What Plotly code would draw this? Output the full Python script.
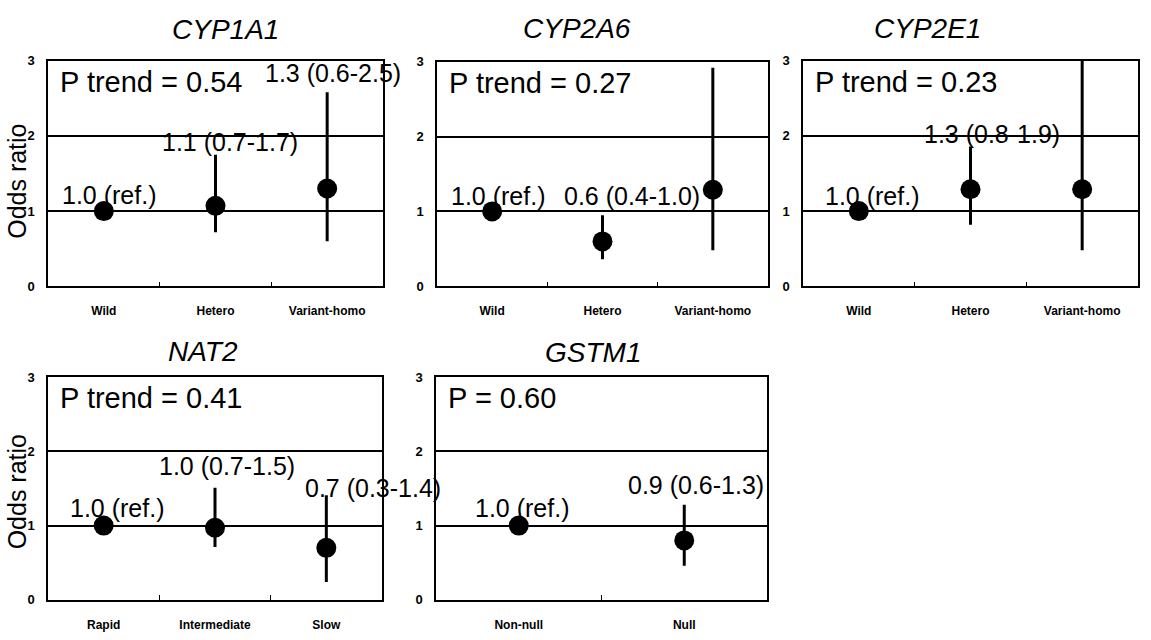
import plotly.graph_objects as go

# ---------------- data ----------------
genes = ["CYP1A1", "CYP2A6", "CYP2E1", "NAT2", "GSTM1"]
categories = [
    ["Wild", "Hetero", "Variant-homo"],
    ["Wild", "Hetero", "Variant-homo"],
    ["Wild", "Hetero", "Variant-homo"],
    ["Rapid", "Intermediate", "Slow"],
    ["Non-null", "Null"],
]
odds_ratio = [
    [1.0, 1.07, 1.30],
    [1.0, 0.60, 1.29],
    [1.0, 1.29, 1.29],
    [1.0, 0.97, 0.70],
    [1.0, 0.80],
]
ci_low = [
    [1.0, 0.72, 0.60],
    [1.0, 0.36, 0.48],
    [1.0, 0.82, 0.48],
    [1.0, 0.71, 0.24],
    [1.0, 0.46],
]
ci_high = [
    [1.0, 1.75, 2.58],
    [1.0, 0.95, 2.92],
    [1.0, 1.86, 3.60],
    [1.0, 1.51, 1.41],
    [1.0, 1.28],
]
point_labels = [
    ["1.0 (ref.)", "1.1 (0.7-1.7)", "1.3 (0.6-2.5)"],
    ["1.0 (ref.)", "0.6 (0.4-1.0)", "1.2 (0.5-3.0)"],
    ["1.0 (ref.)", "1.3 (0.8-1.9)", "1.3 (0.5-3.6)"],
    ["1.0 (ref.)", "1.0 (0.7-1.5)", "0.7 (0.3-1.4)"],
    ["1.0 (ref.)", "0.9 (0.6-1.3)"],
]
p_texts = ["P trend = 0.54", "P trend = 0.27", "P trend = 0.23",
           "P trend = 0.41", "P = 0.60"]
y_ticks = [0, 1, 2, 3]

# ---------------- layout (positions / styles) ----------------
W, H = 1151, 640
# panel boxes in pixels: (left, right, top, bottom)
boxes = [(48, 383, 55, 286), (437, 768, 56, 286), (803, 1138, 55, 286),
         (48, 382, 379, 607), (436, 767, 379, 607)]
# label placement (x in category units, y in data units)
label_pos = [
    [(1.05, 1.21), (2.13, 1.92), (3.05, 2.83)],
    [(1.05, 1.20), (2.27, 1.20), (3.02, 3.56)],
    [(1.12, 1.20), (2.19, 2.03), (2.95, 3.10)],
    [(1.12, 1.24), (2.11, 1.80), (3.42, 1.51)],
    [(1.02, 1.24), (2.07, 1.54)],
]
title_pos = [(225, 23), (577, 22), (927, 22), (203, 353), (593, 354)]
ylabel_pos = [(17, 179), (17, 497)]

FONT = "Liberation Sans, Arial, sans-serif"

fig = go.Figure()
annotations = []

for i, g in enumerate(genes):
    n = len(categories[i])
    xs = list(range(1, n + 1))
    ax = "" if i == 0 else str(i + 1)
    plus = [h - o for h, o in zip(ci_high[i], odds_ratio[i])]
    minus = [o - l for o, l in zip(odds_ratio[i], ci_low[i])]
    fig.add_trace(go.Scatter(
        x=xs, y=odds_ratio[i], mode="markers",
        marker=dict(color="black", size=20),
        error_y=dict(type="data", symmetric=False, array=plus,
                     arrayminus=minus, thickness=3, width=0, color="black"),
        xaxis="x" + ax, yaxis="y" + ax, showlegend=False, hoverinfo="skip",
    ))
    l, r, t, b = boxes[i]
    xdom = [l / W, r / W]
    ydom = [1 - b / H, 1 - t / H]
    bounds = [k + 0.5 for k in range(1, n)]
    fig.update_layout({
        "xaxis" + ax: dict(
            domain=xdom, range=[0.5, n + 0.5], anchor="y" + ax,
            tickmode="array", tickvals=xs, ticktext=categories[i],
            ticks="", showgrid=False, zeroline=False,
            showline=True, mirror=True, linecolor="black", linewidth=1.5,
            tickfont=dict(family=FONT, size=12, color="black", weight="bold"),
            ticklabelstandoff=13,
            minor=dict(tickmode="array", tickvals=bounds, ticks="inside",
                       ticklen=5, tickcolor="black", tickwidth=1, showgrid=False),
            fixedrange=True,
        ),
        "yaxis" + ax: dict(
            domain=ydom, range=[0, 3], anchor="x" + ax,
            tickmode="array", tickvals=y_ticks, ticks="",
            showgrid=True, gridcolor="black", gridwidth=1.5, zeroline=False,
            showline=True, mirror=True, linecolor="black", linewidth=1.5,
            tickfont=dict(family=FONT, size=13, color="black", weight="bold"),
            ticklabelstandoff=9, fixedrange=True,
        ),
    })
    # point labels
    for txt, (lx, ly) in zip(point_labels[i], label_pos[i]):
        annotations.append(dict(
            x=lx, y=ly, xref="x" + ax, yref="y" + ax, text=txt,
            showarrow=False, xanchor="center", yanchor="middle",
            font=dict(family=FONT, size=25, color="black")))
    # P text
    annotations.append(dict(
        x=0, y=2.72, xref="x" + ax + " domain", yref="y" + ax, text=p_texts[i],
        showarrow=False, xanchor="left", yanchor="middle", xshift=10,
        font=dict(family=FONT, size=29, color="black")))
    # title
    tx, ty = title_pos[i]
    annotations.append(dict(
        x=tx / W, y=1 - ty / H, xref="paper", yref="paper",
        text="<i>" + g + "</i>", showarrow=False,
        xanchor="center", yanchor="middle",
        font=dict(family=FONT, size=28, color="black")))

for (px, py) in ylabel_pos:
    annotations.append(dict(
        x=px / W, y=1 - py / H, xref="paper", yref="paper", text="Odds ratio",
        textangle=-90, showarrow=False, xanchor="center", yanchor="middle",
        font=dict(family=FONT, size=25, color="black")))

fig.update_layout(
    width=W, height=H, margin=dict(l=0, r=0, t=0, b=0),
    paper_bgcolor="white", plot_bgcolor="white",
    annotations=annotations, showlegend=False,
)

fig.write_html("out.html", config={"displayModeBar": False})
